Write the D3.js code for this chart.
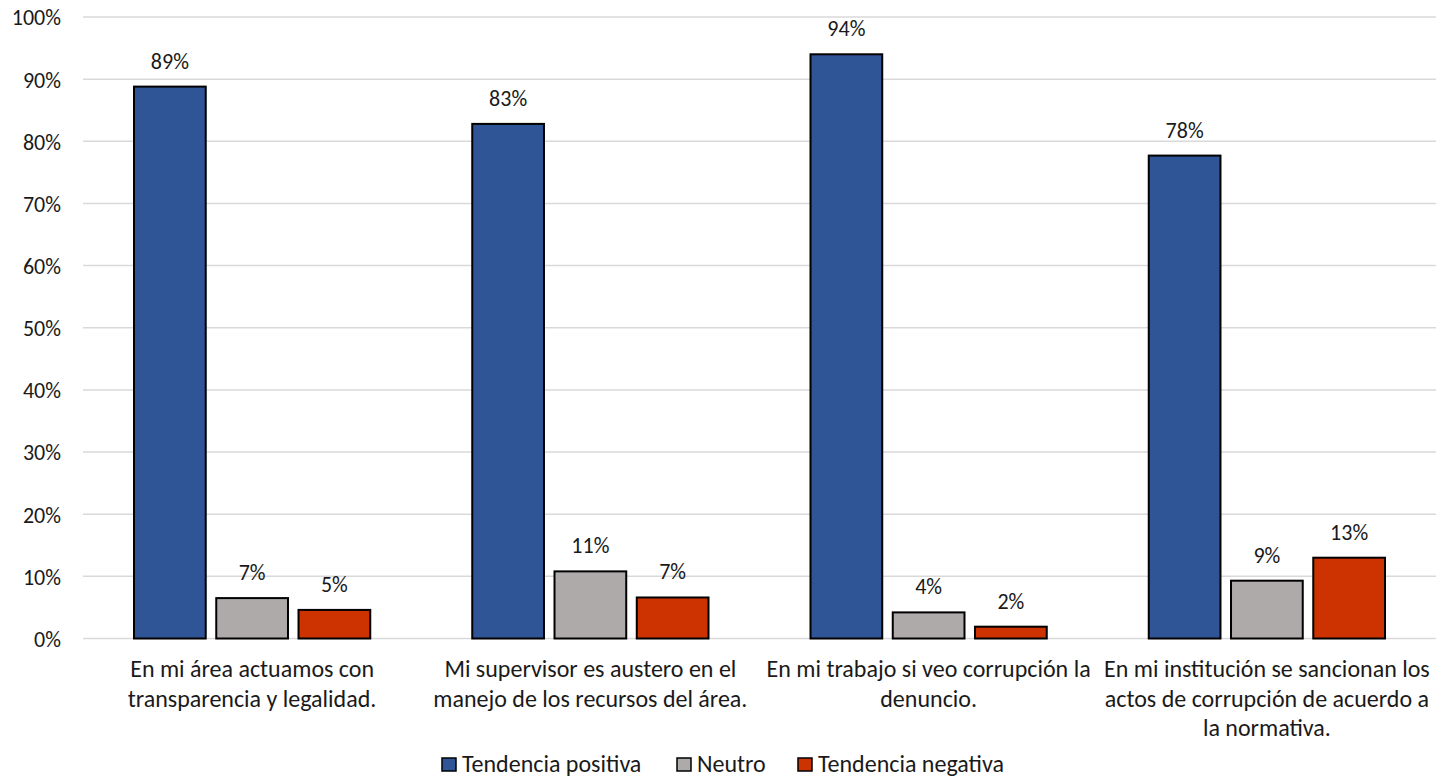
<!DOCTYPE html>
<html><head><meta charset="utf-8">
<script src="https://cdn.jsdelivr.net/npm/d3@7"></script>
<style>body{margin:0;background:#fff;} text{font-family:Carlito,Calibri,Lato,"Open Sans",sans-serif;fill:#1a1a1a;}</style>
</head><body><svg id="c" width="1446" height="778"></svg>
<script>
const categories = [
  "En mi área actuamos con\ntransparencia y legalidad.",
  "Mi supervisor es austero en el\nmanejo de los recursos del área.",
  "En mi trabajo si veo corrupción la\ndenuncio.",
  "En mi institución se sancionan los\nactos de corrupción de acuerdo a\nla normativa."
];
const seriesNames = ["Tendencia positiva","Neutro","Tendencia negativa"];
const positiva = [0.888, 0.828, 0.94, 0.777];
const neutro = [0.065, 0.108, 0.042, 0.093];
const negativa = [0.046, 0.066, 0.019, 0.130];
const labelsPos = ["89%","83%","94%","78%"];
const labelsNeu = ["7%","11%","4%","9%"];
const labelsNeg = ["5%","7%","2%","13%"];
const yTicks = [0,0.1,0.2,0.3,0.4,0.5,0.6,0.7,0.8,0.9,1.0];
const colors = ["#2F5597","#AEAAAA","#CC3300"];

(function(){
const series = [positiva, neutro, negativa];
const seriesLabels = [labelsPos, labelsNeu, labelsNeg];
const FS = 24, FN = 22;

const svg = d3.select("#c");
const mLeft = 83, mRight = 1436, mTop = 17, mBottom = 638.5;
const y = d3.scaleLinear().domain([0,1]).range([mBottom, mTop]);
const x0 = d3.scaleBand().domain(d3.range(categories.length)).range([mLeft, mRight]).paddingInner(0).paddingOuter(0);
const x1 = d3.scaleBand().domain(d3.range(3)).range([51, x0.bandwidth()-51]).paddingInner(10.5/82).paddingOuter(0);

svg.append("g").selectAll("line").data(yTicks).join("line")
  .attr("x1", mLeft).attr("x2", mRight)
  .attr("y1", d=>y(d)).attr("y2", d=>y(d))
  .attr("stroke","#d9d9d9").attr("stroke-width",1.5);

const yAxis = d3.axisLeft(y).tickValues(yTicks).tickFormat(d3.format(".0%")).tickSize(0).tickPadding(0);
const ga = svg.append("g").attr("transform",`translate(61,0)`).call(yAxis);
ga.select(".domain").remove();
ga.selectAll("text").attr("font-size",FN).attr("font-family","Carlito,Calibri,Lato,sans-serif").attr("fill","#1a1a1a").attr("dy","0.36em");

const g = svg.append("g");
series.forEach((s, si) => {
  g.append("g").selectAll("rect").data(s).join("rect")
    .attr("x", (d,i)=>x0(i)+x1(si))
    .attr("width", x1.bandwidth())
    .attr("y", d=>y(d))
    .attr("height", d=>y(0)-y(d))
    .attr("fill", colors[si]).attr("stroke","#000").attr("stroke-width",2);
  g.append("g").selectAll("text").data(s).join("text")
    .attr("x", (d,i)=>x0(i)+x1(si)+x1.bandwidth()/2)
    .attr("y", d=>y(d)-18)
    .attr("text-anchor","middle").attr("font-size",FN)
    .text((d,i)=>seriesLabels[si][i]);
});

categories.forEach((c,i)=>{
  const t = svg.append("text").attr("text-anchor","middle").attr("font-size",FS)
    .attr("x", x0(i)+x0.bandwidth()/2).attr("y", 677);
  c.split("\n").forEach((ln,k)=>{
    t.append("tspan").attr("x", x0(i)+x0.bandwidth()/2).attr("dy", k===0?0:29.5).text(ln);
  });
});

const legendX = [442, 677, 798];
seriesNames.forEach((n,i)=>{
  svg.append("rect").attr("x",legendX[i]).attr("y",758).attr("width",14).attr("height",13)
    .attr("fill",colors[i]).attr("stroke","#000").attr("stroke-width",1.5);
  svg.append("text").attr("x",legendX[i]+20).attr("y",772).attr("font-size",FS).text(n);
});
})();
</script></body></html>
